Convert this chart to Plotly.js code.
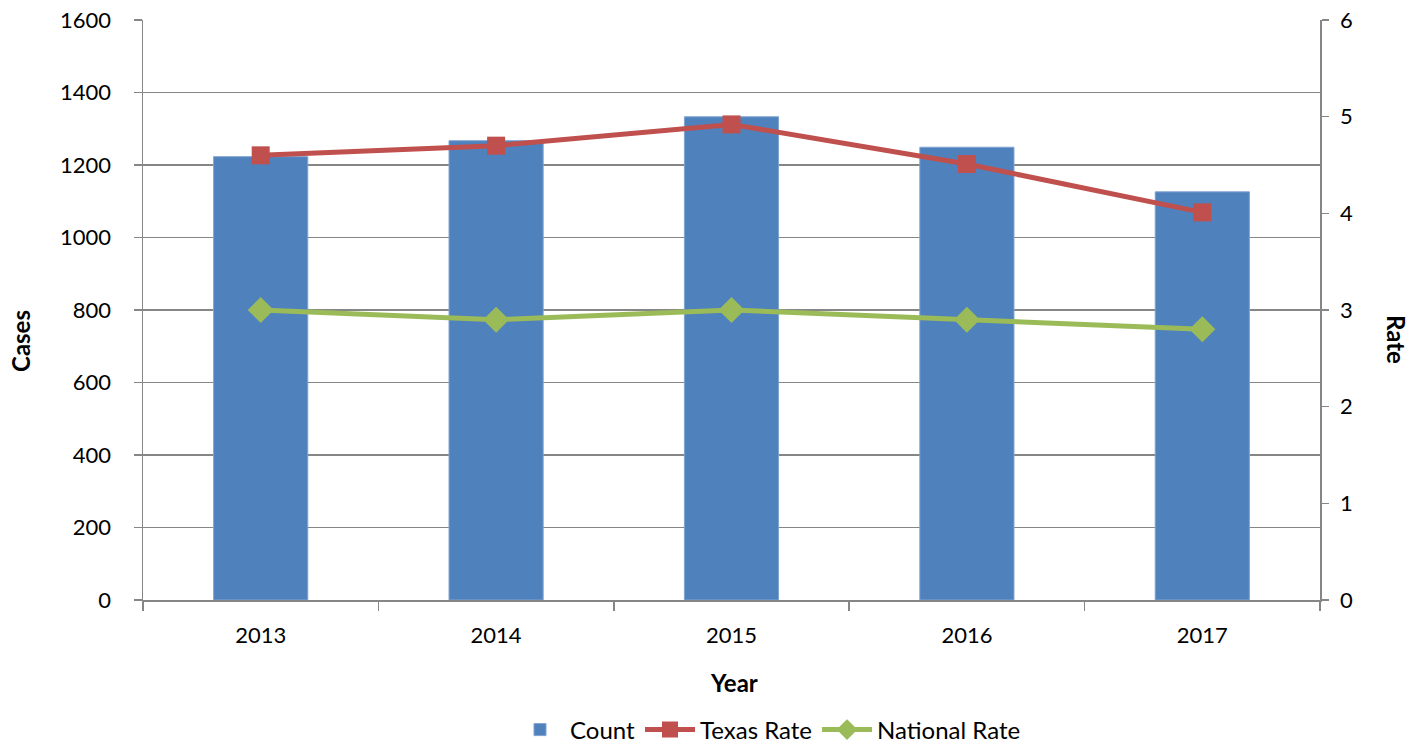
<!DOCTYPE html>
<html>
<head>
<meta charset="utf-8">
<script src="https://cdn.plot.ly/plotly-3.0.1.min.js"></script>
<style>html,body{margin:0;padding:0;background:#fff;}#chart{width:1421px;height:745px;}</style>
</head>
<body>
<div id="chart"></div>
<script>
const years = ["2013", "2014", "2015", "2016", "2017"];
const counts = [1223, 1267, 1333, 1249, 1126];
const texasRate = [4.6, 4.7, 4.92, 4.51, 4.01];
const nationalRate = [3.0, 2.9, 3.0, 2.9, 2.8];

const font = "Lato, 'Open Sans', sans-serif";
const axisColor = "#868686";
const W = 1421, H = 745, L = 143, R = 101, T = 20, B = 145;
const pw = W - L - R, ph = H - T - B;
const px = x => (x - L) / pw;
const py = y => (H - B - y) / ph;

const traces = [
  {type: "bar", x: years, y: counts, name: "Count",
   marker: {color: "#4F81BD", line: {color: "#7FA3D1", width: 1}}},
  {type: "scatter", mode: "lines+markers", x: years, y: texasRate, yaxis: "y2", name: "Texas Rate",
   line: {color: "#C0504D", width: 5}, marker: {symbol: "square", size: 18, color: "#C0504D"}},
  {type: "scatter", mode: "lines+markers", x: years, y: nationalRate, yaxis: "y2", name: "National Rate",
   line: {color: "#9BBB59", width: 5}, marker: {symbol: "diamond", size: 20, color: "#9BBB59"}}
];

const layout = {
  width: W, height: H,
  margin: {l: L, r: R, t: T, b: B, autoexpand: false},
  paper_bgcolor: "#fff", plot_bgcolor: "#fff",
  font: {family: font, size: 22, color: "#000"},
  bargap: 0.6,
  showlegend: true,
  legend: {orientation: "h", xref: "container", yref: "container",
           x: 768 / W, xanchor: "center", y: (H - 730) / H, yanchor: "middle",
           font: {size: 24, family: font}, itemwidth: 50, tracegroupgap: 0},
  xaxis: {type: "category", automargin: false, showline: true, linecolor: axisColor, linewidth: 1.5,
          ticks: "outside", tickson: "boundaries", ticklen: 9, tickcolor: axisColor, tickwidth: 1.5,
          tickfont: {size: 22}, showgrid: false, ticklabelstandoff: 15},
  yaxis: {range: [0, 1600], dtick: 200, automargin: false, showline: true, linecolor: axisColor, linewidth: 1.5,
          ticks: "outside", ticklen: 8, tickcolor: axisColor, tickwidth: 1.5,
          showgrid: true, gridcolor: axisColor, gridwidth: 1.5, zeroline: false,
          tickfont: {size: 22}, ticklabelstandoff: 18},
  yaxis2: {range: [0, 6], dtick: 1, overlaying: "y", side: "right", automargin: false, showline: true,
           linecolor: axisColor, linewidth: 1.5, ticks: "outside", ticklen: 7,
           tickcolor: axisColor, tickwidth: 1.5, showgrid: false, zeroline: false,
           tickfont: {size: 22}, ticklabelstandoff: 7},
  annotations: [
    {text: "<b>Rate</b>", xref: "paper", yref: "paper", x: px(1397), y: py(340),
     xanchor: "center", yanchor: "middle", showarrow: false, textangle: 90, font: {size: 24, family: font}},
    {text: "<b>Cases</b>", xref: "paper", yref: "paper", x: px(21), y: py(341),
     xanchor: "center", yanchor: "middle", showarrow: false, textangle: -90, font: {size: 24, family: font}},
    {text: "<b>Year</b>", xref: "paper", yref: "paper", x: px(734), y: py(682),
     xanchor: "center", yanchor: "middle", showarrow: false, font: {size: 24, family: font}}
  ]
};

Plotly.newPlot("chart", traces, layout, {displayModeBar: false, staticPlot: true});
</script>
</body>
</html>
